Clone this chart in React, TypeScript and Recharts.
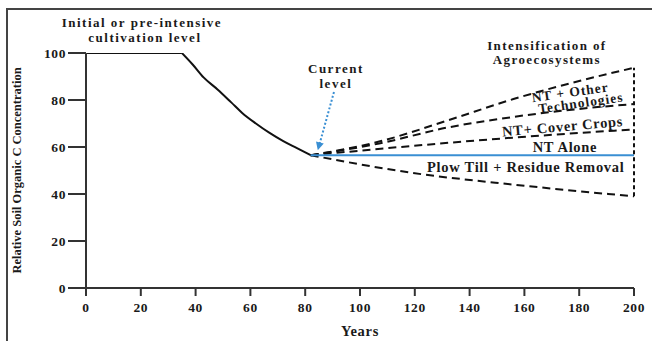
import { LineChart, Line, XAxis, YAxis, ReferenceLine, ReferenceDot } from 'recharts'

const xTicks = [0, 20, 40, 60, 80, 100, 120, 140, 160, 180, 200]
const yTicks = [0, 20, 40, 60, 80, 100]

// pre-intensive plateau and the historical decline
const plateauYears = [0, 35]
const plateauSoc = [100, 100]
const declineYears = [35, 39, 43, 48, 53, 57, 62, 67, 72, 77, 82]
const declineSoc = [100, 95, 89.5, 84.5, 79, 74.5, 70, 66, 62.5, 59.5, 56.5]

// scenarios after the current level
const otherTechUpperYears = [82, 107, 132, 156, 180, 200]
const otherTechUpperSoc = [56.5, 62.3, 71.3, 80.4, 88.1, 93.7]
const otherTechLowerYears = [82, 107, 132, 156, 180, 200]
const otherTechLowerSoc = [56.5, 61.5, 68.3, 72.8, 76.2, 78.3]
const coverCropYears = [82, 156, 200]
const coverCropSoc = [56.5, 64, 67.5]
const ntAloneYears = [82, 200]
const ntAloneSoc = [56.5, 56.5]
const plowTillYears = [82, 119, 156, 200]
const plowTillSoc = [56.5, 49, 44, 39]

const toRows = (years: number[], soc: number[]) => years.map((year, i) => ({ year, soc: soc[i] }))

const font = '"Liberation Serif", "Times New Roman", serif'
const ink = '#1a1a1a'
const blue = '#3a8fd3'
const dash = '8 5'

function Note(props: any) {
  const { cx, cy, lines, angle = 0, size = 14.5, spacing = 0.7, gap = 15, shifts = [] } = props
  return (
    <text
      x={cx}
      y={cy}
      transform={`rotate(${angle}, ${cx}, ${cy})`}
      textAnchor="middle"
      dominantBaseline="central"
      fontFamily={font}
      fontWeight="bold"
      fontSize={size}
      letterSpacing={spacing}
      fill={ink}
    >
      {lines.map((t: string, i: number) => (
        <tspan key={i} x={cx + (shifts[i] || 0)} dy={i === 0 ? 0 : gap}>
          {t}
        </tspan>
      ))}
    </text>
  )
}

function ArrowHead(props: any) {
  const { cx, cy } = props
  return (
    <polygon
      points="0,0 -8,-4 -8,4"
      transform={`translate(${cx}, ${cy}) rotate(105)`}
      fill={blue}
    />
  )
}

const lineProps = { dataKey: 'soc', stroke: '#111', strokeWidth: 2, dot: false, isAnimationActive: false }

export default function App() {
  return (
    <div style={{ position: 'absolute', left: 0, top: 0, width: 652, height: 341, overflow: 'hidden', background: '#fff' }}>
      <div
        style={{
          position: 'absolute',
          left: 6,
          top: 8,
          width: 700,
          height: 400,
          borderTop: '2px solid #444',
          borderLeft: '2px solid #444'
        }}
      />
      <div style={{ position: 'absolute', left: 0, top: 0 }}>
        <LineChart width={652} height={341} margin={{ top: 53, right: 18, bottom: 0, left: 8 }}>
          <XAxis
            type="number"
            dataKey="year"
            domain={[0, 200]}
            ticks={xTicks}
            interval={0}
            tickSize={8}
            tickMargin={6}
            axisLine={{ stroke: '#333', strokeWidth: 2 }}
            tickLine={{ stroke: '#333', strokeWidth: 2 }}
            tick={{ fill: ink, fontFamily: font, fontWeight: 'bold', fontSize: 13.5, letterSpacing: 0.6 }}
            height={53}
            allowDataOverflow
            label={{ value: 'Years', position: 'insideBottom', offset: 5, fill: ink, fontFamily: font, fontWeight: 'bold', fontSize: 14.5, letterSpacing: 0.7 }}
          />
          <YAxis
            type="number"
            domain={[0, 100]}
            ticks={yTicks}
            interval={0}
            width={78}
            tickSize={18}
            tickMargin={2}
            axisLine={{ stroke: '#333', strokeWidth: 2 }}
            tickLine={{ stroke: '#333', strokeWidth: 2 }}
            tick={{ fill: ink, fontFamily: font, fontWeight: 'bold', fontSize: 13.5, letterSpacing: 0.6 }}
            allowDataOverflow
            label={{
              value: 'Relative Soil Organic C Concentration',
              angle: -90,
              position: 'insideLeft',
              offset: 9,
              style: { textAnchor: 'middle' },
              fill: ink,
              fontFamily: font,
              fontWeight: 'bold',
              fontSize: 12.5
            }}
          />

          <Line {...lineProps} data={toRows(plateauYears, plateauSoc)} type="linear" />
          <Line {...lineProps} data={toRows(declineYears, declineSoc)} type="monotone" />
          <Line {...lineProps} data={toRows(otherTechUpperYears, otherTechUpperSoc)} type="monotone" strokeDasharray={dash} />
          <Line {...lineProps} data={toRows(otherTechLowerYears, otherTechLowerSoc)} type="monotone" strokeDasharray={dash} />
          <Line {...lineProps} data={toRows(coverCropYears, coverCropSoc)} type="monotone" strokeDasharray={dash} />
          <Line {...lineProps} data={toRows(plowTillYears, plowTillSoc)} type="monotone" strokeDasharray={dash} />
          <Line {...lineProps} data={toRows(ntAloneYears, ntAloneSoc)} type="linear" stroke={blue} />

          <ReferenceLine segment={[{ x: 200, y: 39 }, { x: 200, y: 93.7 }]} stroke="#111" strokeWidth={2} strokeDasharray="4 3" ifOverflow="visible" />
          <ReferenceLine segment={[{ x: 90.5, y: 83.4 }, { x: 85.3, y: 61.5 }]} stroke={blue} strokeWidth={2} strokeDasharray="2 2" ifOverflow="visible" />
          <ReferenceDot x={84.6} y={58.6} r={0} ifOverflow="visible" shape={(p: any) => <ArrowHead {...p} />} />

          <ReferenceDot x={20.4} y={113.2} r={0} ifOverflow="visible" shape={(p: any) => <Note {...p} lines={['Initial or pre-intensive', 'cultivation level']} shifts={[0, 3]} size={13} spacing={1.5} />} />
          <ReferenceDot x={91.2} y={93.7} r={0} ifOverflow="visible" shape={(p: any) => <Note {...p} lines={['Current', 'level']} size={13} spacing={1.5} />} />
          <ReferenceDot x={168.2} y={103.5} r={0} ifOverflow="visible" shape={(p: any) => <Note {...p} lines={['Intensification of', 'Agroecosystems']} gap={14.5} size={13} spacing={1.4} />} />
          <ReferenceDot x={177.4} y={83.6} r={0} ifOverflow="visible" shape={(p: any) => <Note {...p} lines={['NT + Other', 'Technologies']} angle={-8} gap={12} shifts={[-2, 7]} size={13.5} spacing={1} />} />
          <ReferenceDot x={173.9} y={68.8} r={0} ifOverflow="visible" shape={(p: any) => <Note {...p} lines={['NT+ Cover Crops']} angle={-5} />} />
          <ReferenceDot x={174.8} y={60.2} r={0} ifOverflow="visible" shape={(p: any) => <Note {...p} lines={['NT Alone']} />} />
          <ReferenceDot x={160.5} y={51.4} r={0} ifOverflow="visible" shape={(p: any) => <Note {...p} lines={['Plow Till + Residue Removal']} />} />
        </LineChart>
      </div>
    </div>
  )
}
